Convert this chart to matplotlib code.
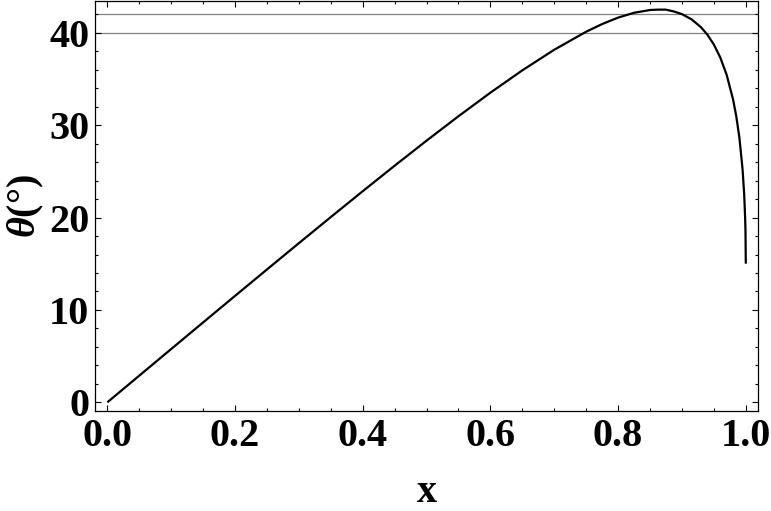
import matplotlib
matplotlib.use("Agg")
import matplotlib.pyplot as plt
from matplotlib.ticker import MultipleLocator

# values
x_vals = [0, 0.05, 0.1, 0.15, 0.2, 0.25, 0.3, 0.35, 0.4, 0.45, 0.5, 0.55, 0.6, 0.65,
          0.7, 0.75, 0.775, 0.8, 0.825, 0.85, 0.8625, 0.875, 0.8875, 0.9, 0.915, 0.93,
          0.94, 0.95, 0.96, 0.97, 0.98, 0.985, 0.99, 0.995, 0.9975, 0.999, 0.9995, 1.0]
theta_vals = [0, 2.886, 5.770, 8.649, 11.521, 14.382, 17.229, 20.056, 22.855, 25.617,
              28.330, 30.974, 33.525, 35.943, 38.174, 40.126, 40.955, 41.651, 42.176,
              42.475, 42.516, 42.514, 42.313, 42.027, 41.467, 40.597, 39.787, 38.729,
              37.335, 35.459, 32.809, 31.004, 28.636, 25.175, 22.466, 19.878, 18.507, 15.014]
ref_lines = [40, 42]
x_ticks = [0.0, 0.2, 0.4, 0.6, 0.8, 1.0]
x_ticklabels = ["0.0", "0.2", "0.4", "0.6", "0.8", "1.0"]
y_ticks = [0, 10, 20, 30, 40]
y_ticklabels = ["0", "10", "20", "30", "40"]

plt.rcParams['font.family'] = ['Liberation Serif', 'DejaVu Serif']
plt.rcParams['font.weight'] = 'bold'
plt.rcParams['mathtext.fontset'] = 'custom'
plt.rcParams['mathtext.it'] = 'Liberation Serif:italic:bold'
plt.rcParams['mathtext.rm'] = 'Liberation Serif:bold'
plt.rcParams['mathtext.bf'] = 'Liberation Serif:bold'

fig = plt.figure(figsize=(7.71, 5.11), dpi=100)
ax = fig.add_axes([95/771, 100/511, (758-95)/771, 410/511])

for v in ref_lines:
    ax.axhline(v, color='#808080', lw=0.9, zorder=1)
ax.plot(x_vals, theta_vals, color='black', lw=1.6, zorder=2,
        solid_joinstyle='round', solid_capstyle='butt')

ax.set_xlim(-0.0193, 1.0191)
ax.set_ylim(-0.94, 43.45)

ax.set_xticks(x_ticks)
ax.set_xticklabels(x_ticklabels)
ax.set_yticks(y_ticks)
ax.set_yticklabels(y_ticklabels)
ax.xaxis.set_minor_locator(MultipleLocator(0.05))
ax.yaxis.set_minor_locator(MultipleLocator(2))

ax.tick_params(which='both', direction='in', top=True, right=True, width=0.8,
               labelsize=29)
ax.tick_params(which='major', length=4.5)
ax.tick_params(which='minor', length=2.3)
ax.tick_params(axis='y', which='major', pad=4)
ax.tick_params(axis='x', which='major', pad=5)
for lab in ax.get_xticklabels() + ax.get_yticklabels():
    lab.set_fontweight('bold')

for s in ax.spines.values():
    s.set_linewidth(0.9)

ax.set_xlabel("x", fontsize=29, fontweight='bold', labelpad=14)
ax.set_ylabel(r"$\theta$(°)", fontsize=29, fontweight='bold', labelpad=2)

fig.savefig("out.png", dpi=100)
